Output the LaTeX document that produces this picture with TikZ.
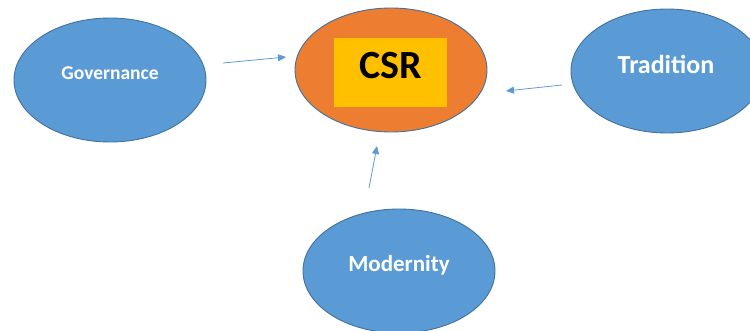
\documentclass[tikz,border=0pt]{standalone}
\usepackage{fontspec}
\setmainfont{Carlito}
\usetikzlibrary{shapes.geometric,arrows.meta}
\definecolor{bfill}{HTML}{5B9BD5}
\definecolor{bdraw}{HTML}{41719C}
\definecolor{ofill}{HTML}{ED7D31}
\definecolor{yfill}{HTML}{FFC000}
\tikzset{
  oval/.style={ellipse, draw=bdraw, line width=0.9pt, fill=bfill, minimum width=192pt, minimum height=124pt, inner sep=0pt},
  lbl/.style={text=white, font=\bfseries, inner sep=0pt},
  conn/.style={draw=bfill, line width=0.8pt, -{Triangle[length=8pt,width=7pt]}}
}
\begin{document}
\begin{tikzpicture}[x=1pt,y=-1pt]
\useasboundingbox (0,0) rectangle (750,331);
\clip (0,0) rectangle (750,331);
\node[oval] (gov) at (110,80) {};
\node[lbl, font=\bfseries\fontsize{19.5}{22}\selectfont] (govt) at (110,73) {Governance};
\node[oval, fill=ofill] (csr) at (391,70) {};
\node[fill=yfill, minimum width=113pt, minimum height=69pt, inner sep=0pt] (box) at (390.5,72.5) {};
\node[inner sep=0pt, font=\bfseries\fontsize{40}{44}\selectfont] (csrt) at (390.5,66) {CSR};
\node[oval] (tra) at (667,71) {};
\node[lbl, font=\bfseries\fontsize{26}{30}\selectfont] (trat) at (666,64) {Tradition};
\node[oval] (mod) at (399,271) {};
\node[lbl, font=\bfseries\fontsize{23}{26}\selectfont] (modt) at (399,265) {Modernity};
\coordinate (a1) at (223,63);
\coordinate (b1) at (286,57);
\coordinate (a2) at (562,85);
\coordinate (b2) at (506,91);
\coordinate (a3) at (369,188);
\coordinate (b3) at (377,146);
\draw[conn] (a1) -- (b1);
\draw[conn] (a2) -- (b2);
\draw[conn] (a3) -- (b3);
\end{tikzpicture}
\end{document}
